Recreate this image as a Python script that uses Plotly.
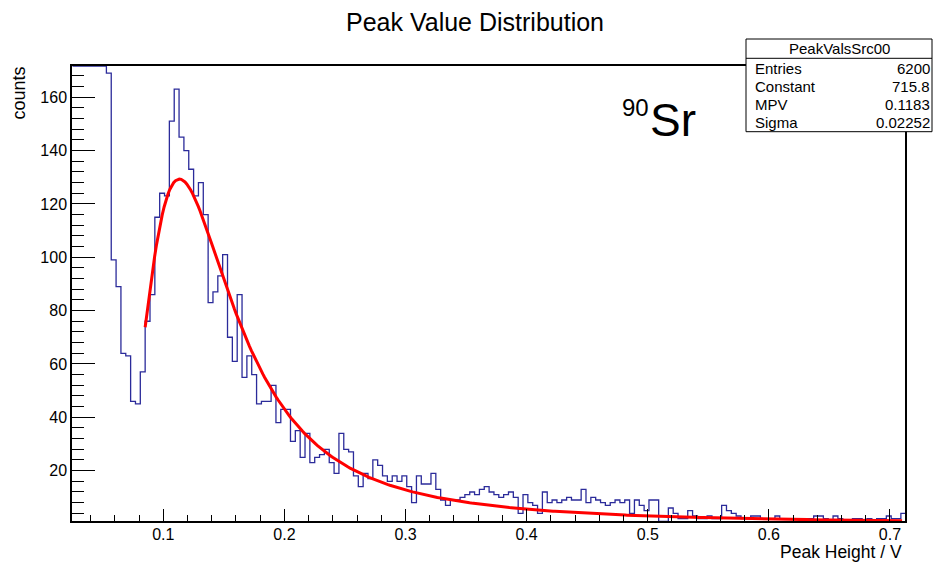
import numpy as np
import plotly.graph_objects as go

# ---------------- data ----------------
bin_start = 0.025
bin_width = 0.004
counts = [
    300, 290, 270, 250, 230, 210, 190, 169, 99, 89,      # 0-9 (first bins clipped at top)
    64, 63, 46, 45, 57, 76, 86, 115, 124, 123,          # 10-19
    151, 163, 145, 140, 133, 123, 128, 116, 83, 87,     # 20-29
    93, 101, 70, 61, 86, 55, 63, 56, 45, 46,            # 30-39
    46, 52, 38, 43, 43, 31, 35, 25, 34, 23,             # 40-49
    25, 26, 28, 23, 19, 34, 28, 27, 18, 14,             # 50-59
    19, 17, 24, 22, 18, 16, 18, 16, 18, 14,             # 60-69
    8, 18, 15, 15, 19, 13, 9, 7, 9, 9,                  # 70-79
    10, 11, 12, 11, 13, 14, 12, 11, 10, 11,             # 80-89
    12, 10, 4, 11, 8, 7, 4, 12, 8, 9,                   # 90-99
    8, 9, 10, 9, 9, 13, 8, 10, 9, 8,                    # 100-109
    7, 8, 9, 8, 9, 4, 9, 7, 5, 9,                       # 110-119
    9, 1, 1, 6, 4, 2, 2, 5, 3, 2,                       # 120-129
    2, 3, 2, 2, 7, 5, 4, 3, 2, 2,                       # 130-139
    3, 3, 2, 2, 2, 3, 2, 2, 2, 2,                       # 140-149
    1, 2, 2, 3, 3, 2, 1, 3, 2, 1,                       # 150-159
    1, 2, 2, 1, 2, 1, 2, 2, 3, 2,                       # 160-169
    2, 4,                                               # 170-171
]
x_ticks = [0.1, 0.2, 0.3, 0.4, 0.5, 0.6, 0.7]
x_tick_labels = ["0.1", "0.2", "0.3", "0.4", "0.5", "0.6", "0.7"]
y_ticks = [20, 40, 60, 80, 100, 120, 140, 160]
y_tick_labels = ["20", "40", "60", "80", "100", "120", "140", "160"]

# Landau fit parameters (from the stats box)
fit_constant = 715.8
fit_mpv = 0.1183
fit_sigma = 0.02252
fit_range = [0.085, 0.71]
entries = 6200
hist_name = "PeakValsSrc00"

x_range = [0.0246, 0.7124]
y_range = [1.12, 171.7]

# ---------------- helpers ----------------
def landau(lam):
    t = np.linspace(1e-9, 30, 15001)
    integrand = np.exp(-t * np.log(t) - np.outer(lam, t)) * np.sin(np.pi * t)
    return np.trapezoid(integrand, t, axis=1) / np.pi

n_bins = len(counts)
edges = bin_start + bin_width * np.arange(n_bins + 1)
vals = np.minimum(np.array(counts, dtype=float), y_range[1])
step_y = np.append(vals, vals[-1])

fx = np.linspace(fit_range[0], fit_range[1], 400)
fy = fit_constant * landau((fx - fit_mpv) / fit_sigma)

FONT = "Liberation Sans, Arial, Helvetica, sans-serif"

fig = go.Figure()
fig.add_trace(go.Scatter(x=edges, y=step_y, mode="lines", line_shape="hv",
                         line=dict(color="#2b2b9a", width=1.3), showlegend=False,
                         hoverinfo="skip"))
fig.add_trace(go.Scatter(x=fx, y=fy, mode="lines",
                         line=dict(color="#ff0000", width=3), showlegend=False,
                         hoverinfo="skip"))

fig.update_xaxes(range=x_range, tickvals=x_ticks, ticktext=x_tick_labels,
                 ticks="inside", ticklen=12, tickwidth=1, tickcolor="black",
                 minor=dict(ticks="inside", dtick=0.02, ticklen=6, tickwidth=1, tickcolor="black"),
                 showline=True, linecolor="black", linewidth=1.5, mirror=True,
                 showgrid=False, zeroline=False, ticklabelstandoff=-2,
                 tickfont=dict(family=FONT, size=16, color="black"))
fig.update_yaxes(range=y_range, tickvals=y_ticks, ticktext=y_tick_labels,
                 ticks="inside", ticklen=23, tickwidth=1, tickcolor="black",
                 minor=dict(ticks="inside", dtick=4, ticklen=12, tickwidth=1, tickcolor="black"),
                 showline=True, linecolor="black", linewidth=1.5, mirror=True,
                 showgrid=False, zeroline=False,
                 tickfont=dict(family=FONT, size=16, color="black"))

W, H = 933, 562
L, R, T, B = 72, 905, 66, 521
def px(x):
    return (x - L) / (R - L)
def py(y):
    return (B - y) / (B - T)

shapes = [
    dict(type="rect", xref="paper", yref="paper", x0=px(746), x1=px(932),
         y0=py(131.7), y1=py(39), fillcolor="white", line=dict(color="black", width=1),
         layer="above"),
    dict(type="line", xref="paper", yref="paper", x0=px(746), x1=px(932),
         y0=py(58.3), y1=py(58.3), line=dict(color="black", width=1), layer="above"),
]

ann = []
def A(text, x, y, xanchor="left", yanchor="middle", size=15, angle=0):
    ann.append(dict(text=text, xref="paper", yref="paper", x=x, y=y, xanchor=xanchor,
                    yanchor=yanchor, showarrow=False, textangle=angle, borderpad=0,
                    font=dict(family=FONT, size=size, color="black")))

A(hist_name, px(839), py(49), xanchor="center")
rows = [("Entries", f"{entries}"), ("Constant", f"{fit_constant:.1f}"),
        ("MPV", f"{fit_mpv:.4f}"), ("Sigma", f"{fit_sigma:.5f}")]
row_y = [68.3, 86.8, 104.3, 122.3]
for (lab, v), yy in zip(rows, row_y):
    A(lab, px(754), py(yy), xanchor="left")
    A(v, px(931), py(yy), xanchor="right")

A("counts", px(18), py(66), xanchor="center", yanchor="top", size=18, angle=-90)
A("Peak Height / V", px(903), py(551.5), xanchor="right", size=17.5)
A("90", px(621), py(107), xanchor="left", size=24)
A("Sr", px(649), py(120), xanchor="left", size=46)

fig.update_layout(
    width=W, height=H,
    margin=dict(l=L, r=W - R, t=T, b=H - B),
    paper_bgcolor="white", plot_bgcolor="white",
    title=dict(text="Peak Value Distribution", x=475 / W, xref="container",
               y=1 - 22 / H, yref="container", xanchor="center", yanchor="middle",
               font=dict(family=FONT, size=25, color="black")),
    shapes=shapes, annotations=ann, showlegend=False,
)

fig.write_html("out.html")
